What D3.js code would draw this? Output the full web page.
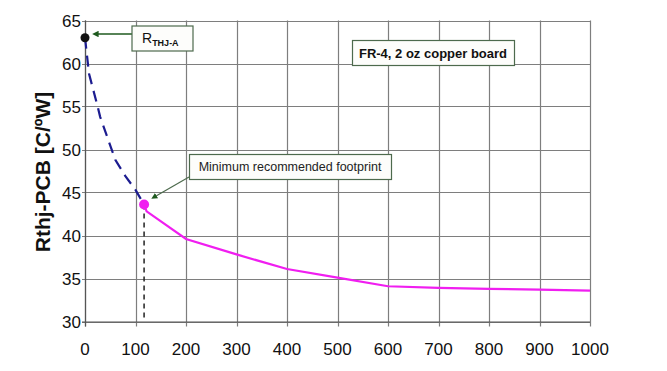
<!DOCTYPE html>
<html>
<head>
<meta charset="utf-8">
<script src="https://cdn.jsdelivr.net/npm/d3@7"></script>
<style>
  body { margin: 0; background: #fff; }
  svg { display: block; font-family: "Liberation Sans", Arial, sans-serif; }
</style>
</head>
<body>
<svg class="canvas" width="667" height="371"></svg>
<script>
// thermal resistance vs copper area
var xTicks = [0, 100, 200, 300, 400, 500, 600, 700, 800, 900, 1000];
var yTicks = [30, 35, 40, 45, 50, 55, 60, 65];

// dashed part: from Rthj-a down to the minimum footprint
var dashX = [0, 8, 25, 30, 45, 60, 80, 100, 117];
var dashY = [63, 58.8, 55, 53.8, 51.3, 48.8, 46.9, 45.3, 43.6];

// solid part
var solidX = [117, 122, 200, 300, 400, 500, 600, 700, 800, 900, 1000];
var solidY = [43.6, 42.8, 39.6, 37.8, 36.1, 35.1, 34.1, 33.9, 33.8, 33.7, 33.6];

var rthjaX = 0, rthjaY = 63;
var minFootX = 117, minFootY = 43.6;

var svg = d3.select('.canvas');

var x = d3.scaleLinear().domain([0, 1000]).range([85, 590]);
var y = d3.scaleLinear().domain([30, 65]).range([321.5, 20.5]);

// grid
svg.append('g')
    .selectAll('line')
    .data(xTicks)
    .enter()
    .append('line')
        .attr('x1', function(d) { return Math.round(x(d)) + 0.5; })
        .attr('x2', function(d) { return Math.round(x(d)) + 0.5; })
        .attr('y1', y(65))
        .attr('y2', y(30) + 5)
        .attr('stroke', '#7e7e7e')
        .attr('stroke-width', 1.2);

svg.append('g')
    .selectAll('line')
    .data(yTicks)
    .enter()
    .append('line')
        .attr('x1', x(0) - 3)
        .attr('x2', x(1000))
        .attr('y1', function(d) { return Math.round(y(d)) + 0.5; })
        .attr('y2', function(d) { return Math.round(y(d)) + 0.5; })
        .attr('stroke', '#7e7e7e')
        .attr('stroke-width', 1.2);

// left and bottom axis lines a bit darker
svg.append('line')
    .attr('x1', x(0) + 0.5).attr('x2', x(0) + 0.5)
    .attr('y1', y(65)).attr('y2', y(30) + 5)
    .attr('stroke', '#555').attr('stroke-width', 1.2);
svg.append('line')
    .attr('x1', x(0) - 3).attr('x2', x(1000))
    .attr('y1', y(30) + 0.5).attr('y2', y(30) + 0.5)
    .attr('stroke', '#555').attr('stroke-width', 1.2);

// tick labels
svg.append('g')
    .selectAll('text')
    .data(xTicks)
    .enter()
    .append('text')
        .attr('x', function(d) { return x(d); })
        .attr('y', 355)
        .attr('text-anchor', 'middle')
        .style('font-size', '17px')
        .style('fill', '#111')
        .text(function(d) { return d; });

svg.append('g')
    .selectAll('text')
    .data(yTicks)
    .enter()
    .append('text')
        .attr('x', 81)
        .attr('y', function(d) { return y(d) + 6; })
        .attr('text-anchor', 'end')
        .style('font-size', '17px')
        .style('fill', '#111')
        .text(function(d) { return d; });

svg.append('text')
    .attr('transform', 'translate(50,172) rotate(-90)')
    .attr('text-anchor', 'middle')
    .style('font-size', '21px')
    .style('font-weight', 'bold')
    .style('fill', '#111')
    .text('Rthj-PCB [C/ºW]');

// vertical dashed drop line at the minimum footprint
svg.append('line')
    .attr('x1', x(minFootX)).attr('x2', x(minFootX))
    .attr('y1', y(minFootY)).attr('y2', y(30))
    .attr('stroke', '#222')
    .attr('stroke-width', 1.5)
    .attr('stroke-dasharray', '5,4');

var line = d3.line()
    .x(function(d) { return x(d[0]); })
    .y(function(d) { return y(d[1]); });

svg.append('path')
    .datum(d3.zip(dashX, dashY))
    .attr('d', line)
    .attr('fill', 'none')
    .attr('stroke', '#1c1c90')
    .attr('stroke-width', 2.2)
    .attr('stroke-dasharray', '11,7');

svg.append('path')
    .datum(d3.zip(solidX, solidY))
    .attr('d', line)
    .attr('fill', 'none')
    .attr('stroke', '#f01ef0')
    .attr('stroke-width', 2.2);

svg.append('circle')
    .attr('cx', x(rthjaX)).attr('cy', y(rthjaY))
    .attr('r', 4.5)
    .attr('fill', '#111');

svg.append('circle')
    .attr('cx', x(minFootX)).attr('cy', y(minFootY))
    .attr('r', 5)
    .attr('fill', '#f01ef0');

// annotations
var green = '#1f5a1f';
svg.append('defs').append('marker')
    .attr('id', 'arr')
    .attr('viewBox', '0 0 10 10')
    .attr('refX', 1).attr('refY', 5)
    .attr('markerWidth', 5).attr('markerHeight', 5)
    .attr('markerUnits', 'strokeWidth')
    .attr('orient', 'auto-start-reverse')
    .append('path')
        .attr('d', 'M0,0 L10,5 L0,10 z')
        .attr('fill', green);

function box(x0, y0, w, h) {
    svg.append('rect')
        .attr('x', x0).attr('y', y0)
        .attr('width', w).attr('height', h)
        .attr('fill', '#fdfdfb')
        .attr('stroke', '#4d6a4d')
        .attr('stroke-width', 1.2);
}

// R_THJ-A
svg.append('line')
    .attr('x1', 132).attr('y1', 34)
    .attr('x2', 98).attr('y2', 34)
    .attr('stroke', green).attr('stroke-width', 1.3)
    .attr('marker-end', 'url(#arr)');
box(132, 26, 61, 25);
var rt = svg.append('text')
    .attr('x', 142).attr('y', 43)
    .style('font-size', '14px')
    .style('fill', '#111');
rt.append('tspan').text('R');
rt.append('tspan')
    .attr('dy', 3)
    .style('font-size', '9px')
    .style('font-weight', 'bold')
    .text('THJ-A');

// FR-4 box
box(352.5, 40.5, 162, 25);
svg.append('text')
    .attr('x', 433).attr('y', 58)
    .attr('text-anchor', 'middle')
    .style('font-size', '13px')
    .style('font-weight', 'bold')
    .style('fill', '#111')
    .text('FR-4, 2 oz copper board');

// minimum footprint
svg.append('line')
    .attr('x1', 189).attr('y1', 177)
    .attr('x2', 156).attr('y2', 196)
    .attr('stroke', '#4d6a4d').attr('stroke-width', 1.2)
    .attr('marker-end', 'url(#arr)');
box(189.5, 154.5, 202, 25);
svg.append('text')
    .attr('x', 290).attr('y', 171)
    .attr('text-anchor', 'middle')
    .style('font-size', '12.5px')
    .style('fill', '#222')
    .text('Minimum recommended footprint');
</script>
</body>
</html>
